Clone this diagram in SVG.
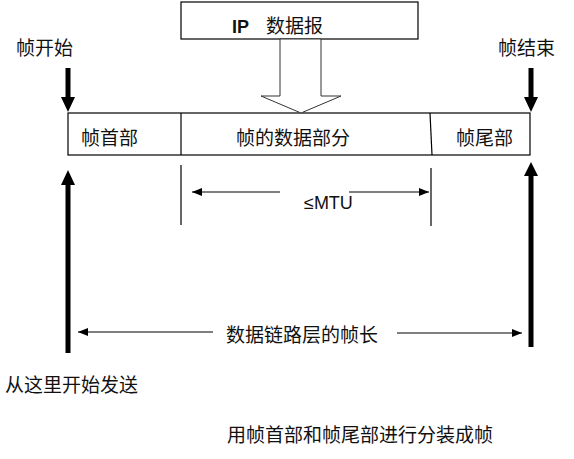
<svg xmlns="http://www.w3.org/2000/svg" width="574" height="459" viewBox="0 0 574 459">
<style>
.t{font-family:"Noto Sans CJK SC","Noto Sans",sans-serif;font-size:19px;fill:#111}
.box{fill:#fff;stroke:#000;stroke-width:1.2}
.thin{stroke:#000;stroke-width:1.2;fill:none}
.thick{stroke:#000;stroke-width:5;fill:none}
.head{fill:#000}
</style>
<defs>
<marker id="ah" viewBox="0 0 10 8" refX="10" refY="4" markerWidth="10" markerHeight="8" markerUnits="userSpaceOnUse" orient="auto">
<path d="M0,0 L10,4 L0,8 Z" fill="#000"/>
</marker>
</defs>
<rect width="574" height="459" fill="#fff"/>
<g id="ip-datagram">
<rect class="box" x="181" y="2" width="237" height="37"/>
<text x="232" y="33" style="font-family:'Liberation Sans',sans-serif;font-size:18px;font-weight:bold;fill:#111">IP</text>
<text class="t" x="266" y="33">数据报</text>
</g>
<g id="frame">
<rect class="box" x="68" y="113" width="462" height="42"/>
<line class="thin" x1="181" y1="113" x2="181" y2="155"/>
<line class="thin" x1="430" y1="113" x2="432" y2="155"/>
<text class="t" x="81" y="145">帧首部</text>
<text class="t" x="236" y="145">帧的数据部分</text>
<text class="t" x="456" y="145">帧尾部</text>
</g>
<g id="labels">
<text class="t" x="16" y="55">帧开始</text>
<text class="t" x="498" y="55">帧结束</text>
<text x="304" y="209" style="font-family:'Liberation Sans',sans-serif;font-size:18px;fill:#111">≤MTU</text>
<text class="t" x="226" y="342">数据链路层的帧长</text>
<text class="t" x="5" y="392">从这里开始发送</text>
<text class="t" x="227" y="442">用帧首部和帧尾部进行分装成帧</text>
</g>
<g id="connectors">
<polygon points="280,39 280,96 261,96 301,113 341,96 321,96 321,39" fill="#fff" stroke="#333" stroke-width="1"/>
<line class="thick" x1="68" y1="68" x2="68" y2="98"/>
<polygon class="head" points="61,97 75,97 68,112"/>
<line class="thick" x1="531" y1="68" x2="531" y2="98"/>
<polygon class="head" points="524,97 538,97 531,112"/>
<line class="thick" x1="68" y1="184" x2="68" y2="353"/>
<polygon class="head" points="61,185 75,185 68,170"/>
<line class="thick" x1="531" y1="175" x2="531" y2="347"/>
<polygon class="head" points="524,176 538,176 531,162"/>
<line class="thin" x1="181" y1="165" x2="181" y2="225"/>
<line class="thin" x1="431" y1="168" x2="431" y2="226"/>
<line class="thin" x1="280" y1="192" x2="192" y2="192" marker-end="url(#ah)"/>
<line class="thin" x1="349" y1="192" x2="429" y2="192" marker-end="url(#ah)"/>
<line class="thin" x1="213" y1="332" x2="78" y2="332" marker-end="url(#ah)"/>
<line class="thin" x1="397" y1="333" x2="522" y2="333" marker-end="url(#ah)"/>
</g>
</svg>
